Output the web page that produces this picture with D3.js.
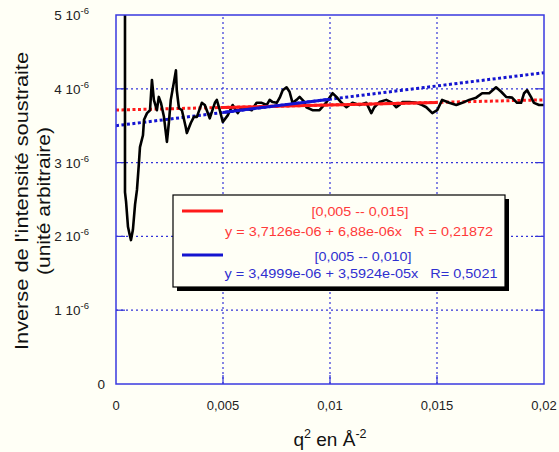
<!DOCTYPE html>
<html><head><meta charset="utf-8">
<script src="https://cdn.jsdelivr.net/npm/d3@7"></script>
<style>body{margin:0;background:#fffff6;}svg{display:block;font-family:Arial,"Liberation Sans",sans-serif;}</style>
</head><body><div id="chart"></div>
<script>
// q^2 (Å^-2) values
const q2 = [0.00042,0.00042,0.00047,0.00056,0.00065,0.00070,0.00079,0.00089,0.00098,0.00107,0.00112,0.00126,0.00131,0.00145,0.00159,0.00168,0.00177,0.00191,0.00200,0.00210,0.00224,0.00238,0.00247,0.00256,0.00270,0.00280,0.00284,0.00294,0.00308,0.00326,0.00331,0.00350,0.00364,0.00378,0.00401,0.00415,0.00438,0.00462,0.00471,0.00485,0.00499,0.00522,0.00545,0.00569,0.00587,0.00611,0.00634,0.00657,0.00681,0.00704,0.00718,0.00732,0.00751,0.00765,0.00779,0.00797,0.00811,0.00825,0.00844,0.00858,0.00881,0.00890,0.00918,0.00951,0.00984,0.01012,0.01030,0.01054,0.01077,0.01105,0.01138,0.01170,0.01193,0.01207,0.01231,0.01263,0.01291,0.01310,0.01324,0.01338,0.01371,0.01403,0.01431,0.01450,0.01478,0.01501,0.01524,0.01557,0.01590,0.01618,0.01650,0.01683,0.01711,0.01744,0.01776,0.01800,0.01823,0.01851,0.01874,0.01893,0.01907,0.01921,0.01939,0.01953,0.01977,0.02000];
// inverse intensity (×1e-6)
const invI = [5.6,2.60,2.47,2.13,2.01,1.95,2.09,2.43,2.63,2.99,3.21,3.37,3.58,3.67,3.71,4.12,3.85,3.71,3.89,3.81,3.62,3.28,3.54,3.85,4.08,4.25,3.98,3.74,3.71,3.48,3.40,3.54,3.62,3.62,3.81,3.78,3.60,3.81,3.85,3.71,3.55,3.64,3.78,3.67,3.75,3.74,3.71,3.81,3.81,3.78,3.85,3.82,3.81,3.88,3.98,4.02,3.96,3.81,3.85,3.89,3.82,3.75,3.71,3.71,3.82,3.94,3.89,3.81,3.75,3.81,3.78,3.81,3.67,3.75,3.82,3.85,3.81,3.75,3.78,3.82,3.82,3.81,3.78,3.75,3.67,3.71,3.85,3.81,3.78,3.81,3.85,3.88,3.94,3.94,4.02,3.96,3.89,3.88,3.81,3.81,3.94,3.98,3.89,3.81,3.78,3.78];

const xTicks = [0,0.005,0.01,0.015,0.02];
const xTickLabels = ["0","0,005","0,01","0,015","0,02"];
const yTicks = [0,1e-6,2e-6,3e-6,4e-6,5e-6];
const yTickLabels = ["0","1 10","2 10","3 10","4 10","5 10"];

const fitRed = {a:3.7126e-6, b:6.88e-6, from:0.005, to:0.015};
const fitBlue = {a:3.4999e-6, b:3.5924e-5, from:0.005, to:0.010};
const legendRed = ["[0,005 -- 0,015]","y = 3,7126e-06 + 6,88e-06x   R = 0,21872"];
const legendBlue = ["[0,005 -- 0,010]","y = 3,4999e-06 + 3,5924e-05x   R= 0,5021"];

const W=559,H=452;
const m={l:116,r:15,t:15,b:68};
const svg=d3.select("#chart").append("svg").attr("width",W).attr("height",H);
svg.append("rect").attr("width",W).attr("height",H).attr("fill","#fffff6");
const x=d3.scaleLinear().domain([0,0.02]).range([m.l,W-m.r]);
const y=d3.scaleLinear().domain([0,5e-6]).range([H-m.b,m.t]);

const grid="#3434d8";
svg.append("g").selectAll("line").data(xTicks.slice(1,-1)).join("line")
 .attr("x1",d=>x(d)).attr("x2",d=>x(d)).attr("y1",y(0)).attr("y2",y(5e-6))
 .attr("stroke",grid).attr("stroke-width",1.2).attr("stroke-dasharray","2,3");
svg.append("g").selectAll("line").data(yTicks.slice(1,-1)).join("line")
 .attr("x1",x(0)).attr("x2",x(0.02)).attr("y1",d=>y(d)).attr("y2",d=>y(d))
 .attr("stroke",grid).attr("stroke-width",1.2).attr("stroke-dasharray","2,3");
svg.append("g").selectAll("line").data(yTicks.slice(1,-1)).join("line")
 .attr("x1",x(0.02)-9).attr("x2",x(0.02)).attr("y1",d=>y(d)).attr("y2",d=>y(d))
 .attr("stroke",grid).attr("stroke-width",1.2);
svg.append("g").selectAll("line").data(yTicks.slice(1,-1)).join("line")
 .attr("x1",x(0)).attr("x2",x(0)+9).attr("y1",d=>y(d)).attr("y2",d=>y(d))
 .attr("stroke",grid).attr("stroke-width",1.2);
svg.append("g").selectAll("line").data(xTicks.slice(1,-1)).join("line")
 .attr("x1",d=>x(d)).attr("x2",d=>x(d)).attr("y1",y(0)).attr("y2",y(0)-9)
 .attr("stroke",grid).attr("stroke-width",1.2);

svg.append("clipPath").attr("id","clip").append("rect")
 .attr("x",x(0)).attr("y",y(5e-6)).attr("width",x(0.02)-x(0)).attr("height",y(0)-y(5e-6));
const plot=svg.append("g").attr("clip-path","url(#clip)");

const fitLine=(f,x0,x1)=>[[x0,f.a+f.b*x0],[x1,f.a+f.b*x1]];
const lg=d3.line().x(d=>x(d[0])).y(d=>y(d[1]));
plot.append("path").attr("d",lg(fitLine(fitBlue,0,0.02))).attr("stroke","#1414d0").attr("stroke-width",3).attr("stroke-dasharray","3,2.5").attr("fill","none");
plot.append("path").attr("d",lg(fitLine(fitRed,0,0.02))).attr("stroke","#ff1a1a").attr("stroke-width",3).attr("stroke-dasharray","3,2.5").attr("fill","none");

plot.append("path").datum(q2.map((v,i)=>[v,invI[i]*1e-6]))
 .attr("d",lg).attr("fill","none").attr("stroke","#000").attr("stroke-width",2.6).attr("stroke-linejoin","round");

plot.append("path").attr("d",lg(fitLine(fitRed,fitRed.from,fitRed.to))).attr("stroke","#ff1a1a").attr("stroke-width",3).attr("fill","none");
plot.append("path").attr("d",lg(fitLine(fitBlue,fitBlue.from,fitBlue.to))).attr("stroke","#1414d0").attr("stroke-width",3).attr("fill","none");

svg.append("rect").attr("x",x(0)).attr("y",y(5e-6)).attr("width",x(0.02)-x(0)).attr("height",y(0)-y(5e-6))
 .attr("fill","none").attr("stroke","#3a3ae0").attr("stroke-width",1.5);

svg.append("g").selectAll("text").data(xTicks).join("text")
 .attr("x",d=>x(d)).attr("y",y(0)+26).attr("text-anchor","middle").attr("font-size",13).attr("fill","#222")
 .text((d,i)=>xTickLabels[i]);
const yl=svg.append("g").selectAll("text").data(yTicks).join("text")
 .attr("x",d=>d===0?105:x(0)-27).attr("y",d=>y(d)+5).attr("text-anchor","end").attr("font-size",13.5).attr("fill","#222");
yl.append("tspan").text((d,i)=>yTickLabels[i]);
yl.filter(d=>d!==0).append("tspan").attr("dy",-6).attr("font-size",9.5).text("-6");

const xt=svg.append("text").attr("x",330).attr("y",446).attr("text-anchor","middle").attr("font-size",19).attr("fill","#111");
xt.append("tspan").text("q");
xt.append("tspan").attr("dy",-8).attr("font-size",12.5).text("2");
xt.append("tspan").attr("dy",8).text(" en Å");
xt.append("tspan").attr("dy",-8).attr("font-size",12.5).text("-2");
const ytg=svg.append("g").attr("transform","translate(0,201) rotate(-90)");
ytg.append("text").attr("x",0).attr("y",28).attr("text-anchor","middle").attr("font-size",18).attr("fill","#111")
 .attr("textLength",298).attr("lengthAdjust","spacingAndGlyphs").text("Inverse de l'intensité soustraite");
ytg.append("text").attr("x",0).attr("y",50).attr("text-anchor","middle").attr("font-size",18).attr("fill","#111")
 .attr("textLength",148).attr("lengthAdjust","spacingAndGlyphs").text("(unité arbitraire)");

const L={x:173,y:195,w:332,h:92};
svg.append("rect").attr("x",L.x+4).attr("y",L.y+4).attr("width",L.w).attr("height",L.h).attr("fill","#000");
svg.append("rect").attr("x",L.x).attr("y",L.y).attr("width",L.w).attr("height",L.h).attr("fill","#fffff6").attr("stroke","#000").attr("stroke-width",1.2);
const items=[{c:"#ff1a1a",tc:"#ff3a3a",t:legendRed,y:211,b1:216,b2:236,w1:97,w2:268,cx:360,cx2:359},
             {c:"#1414d0",tc:"#3030d0",t:legendBlue,y:255,b1:261,b2:278,w1:97,w2:273,cx:363,cx2:361}];
items.forEach(it=>{
  svg.append("line").attr("x1",182).attr("x2",223).attr("y1",it.y).attr("y2",it.y).attr("stroke",it.c).attr("stroke-width",3);
  svg.append("text").attr("x",it.cx).attr("y",it.b1).attr("text-anchor","middle").attr("font-size",13.5).attr("fill",it.tc)
   .attr("textLength",it.w1).attr("lengthAdjust","spacingAndGlyphs").text(it.t[0]);
  svg.append("text").attr("x",it.cx2).attr("y",it.b2).attr("text-anchor","middle").attr("font-size",13.5).attr("fill",it.tc)
   .attr("textLength",it.w2).attr("lengthAdjust","spacingAndGlyphs").style("white-space","pre").text(it.t[1]);
});
</script></body></html>
